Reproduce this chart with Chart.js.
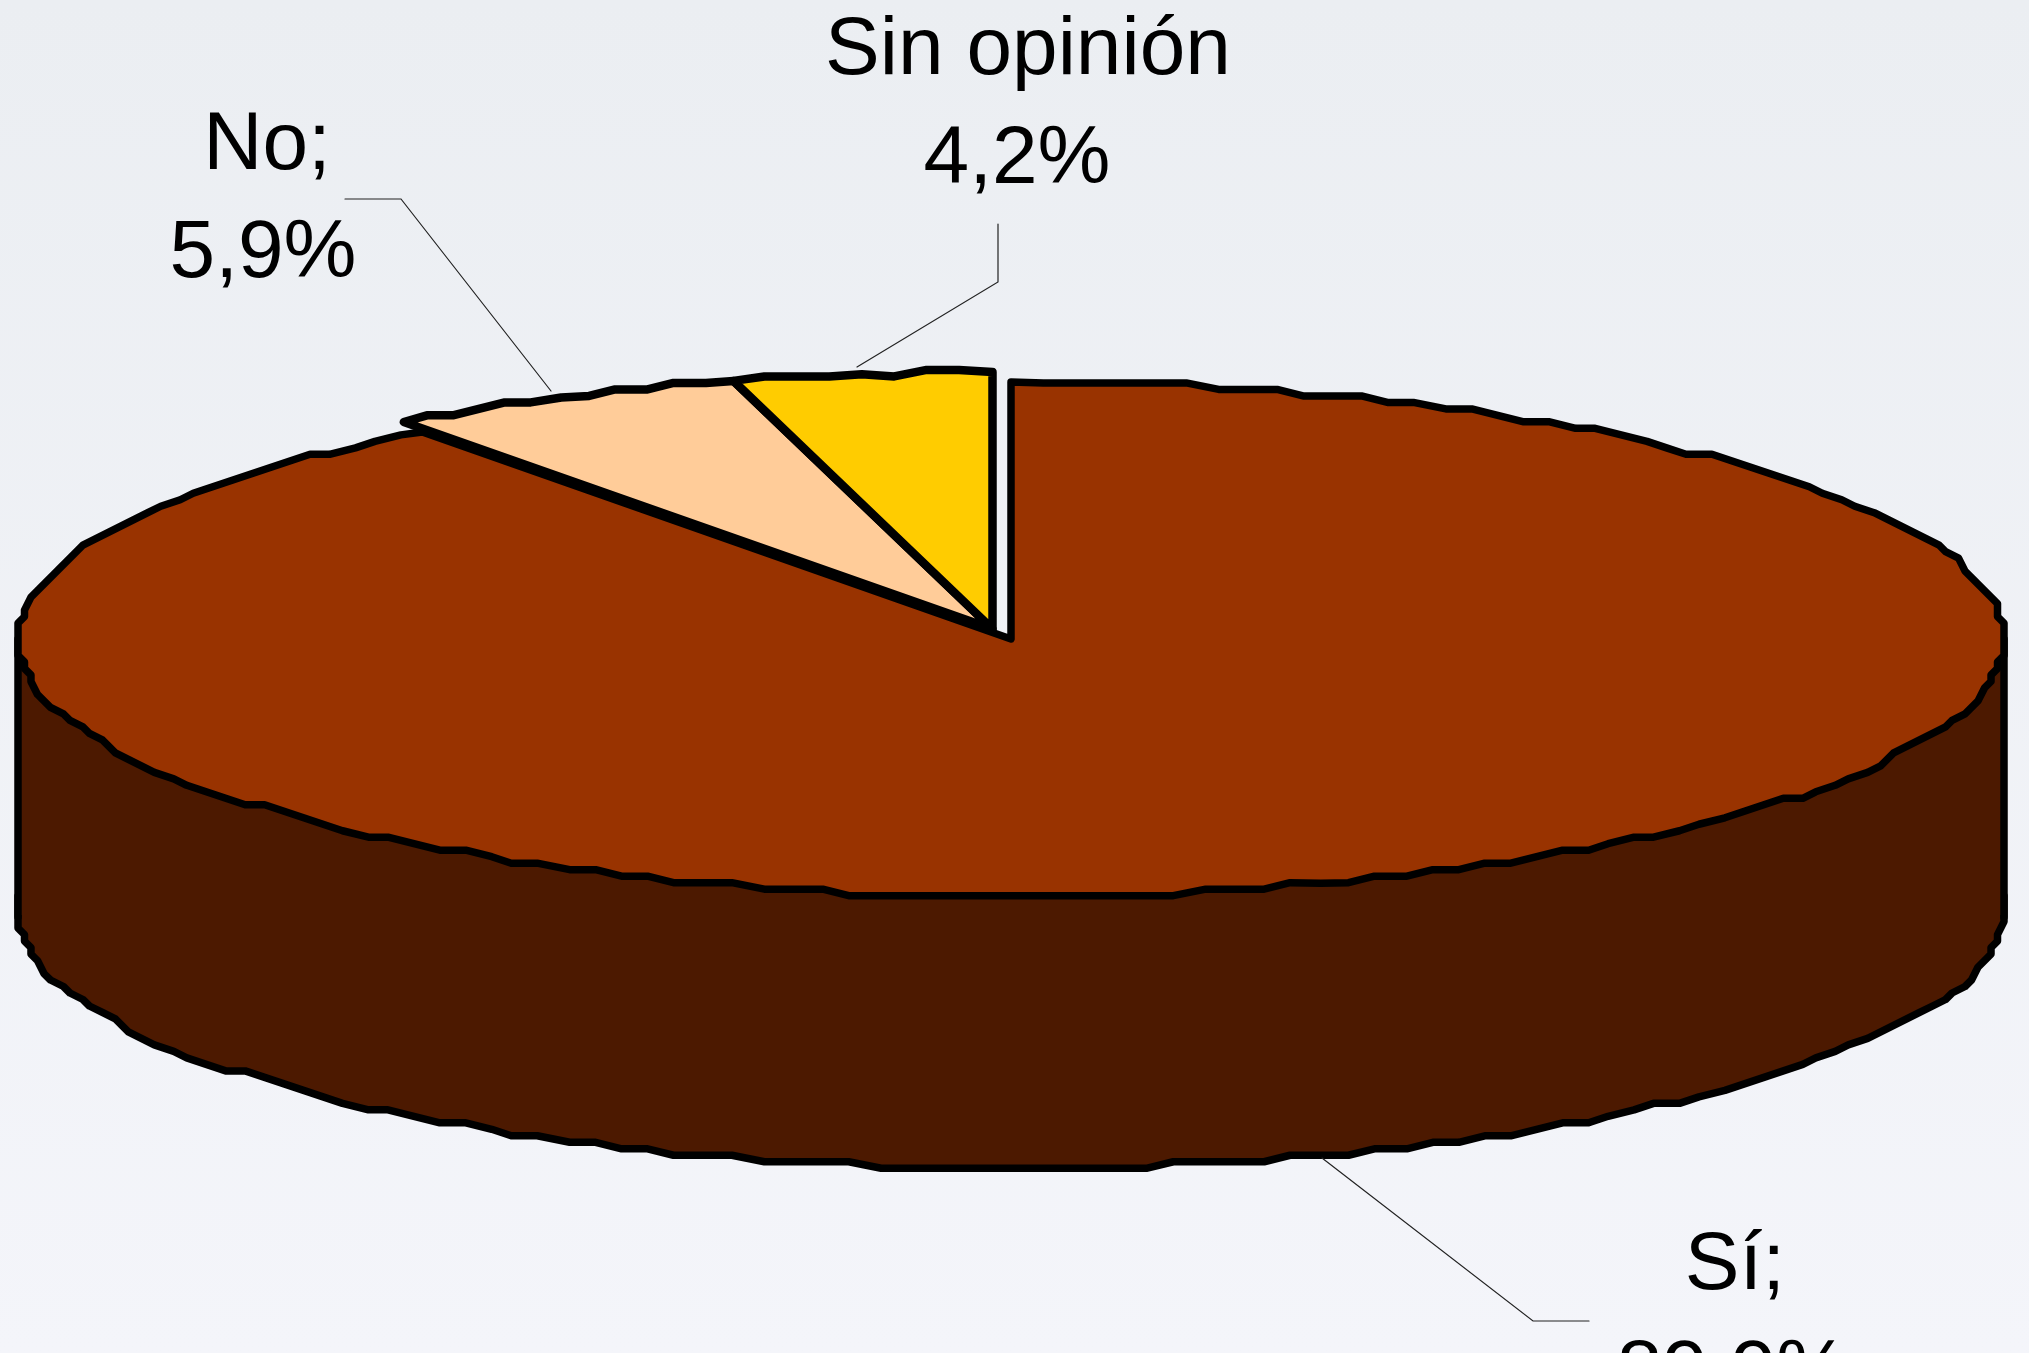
<!DOCTYPE html>
<html>
<head>
<meta charset="utf-8">
<title>Pie</title>
<script src="https://cdn.jsdelivr.net/npm/chart.js@4"></script>
<style>
    html, body { margin: 0; padding: 0; background: #f0f2f6; overflow: hidden; }
    body { width: 2029px; height: 1353px; background: linear-gradient(#ebeef2, #f4f5fa); }
    canvas { display: block; }
</style>
</head>
<body>
<canvas id="PieChart" width="2029" height="1353"></canvas>
<script>
const categories = ['Sí', 'No', 'Sin opinión'];
const values = [89.9, 5.9, 4.2];
const valueLabels = ['89,9%', '5,9%', '4,2%'];
const nameLabels = ['Sí;', 'No;', 'Sin opinión'];
const sliceColors = ['#993300', '#FFCC99', '#FFCC00'];
const sideColor = '#4C1900';

// where the text and the thin leader lines sit on the page
const labelPos = [
    { name: [1735, 1289], value: [1733, 1397] },
    { name: [267, 169], value: [263, 277] },
    { name: [1028, 74], value: [1017, 183] }
];
const leaders = [
    [[1589, 1321], [1533, 1321], [1322, 1158]],
    [[345, 199], [401, 199], [551, 391]],
    [[998, 224], [998, 282], [857, 367]]
];

const radiusX = 993;
const squash = 257 / 993;
const depth = 272;
const liftX = -18.5, liftY = -10;
const grid = 993 / 153;
const outline = 7.5;

function DrawFlat(ctx, arc, dx, dy, color) {
    var keep = arc.options;
    if (color) {
        arc.options = Object.assign(Object.create(keep), { backgroundColor: color });
    }
    ctx.save();
    ctx.translate(arc.x + dx, arc.y + dy);
    ctx.scale(1, squash);
    ctx.translate(-arc.x, -arc.y);
    arc.draw(ctx);
    ctx.restore();
    arc.options = keep;
}

const flatPie = {
    id: 'flatPie',
    beforeDatasetsDraw: function (chart) {
        var ctx = chart.ctx;
        var arcs = chart.getDatasetMeta(0).data;
        var nativeStroke = ctx.stroke;

        // keep the outline even although the pie is squashed
        ctx.stroke = function () {
            ctx.save();
            ctx.setTransform(1, 0, 0, 1, 0, 0);
            nativeStroke.call(ctx);
            ctx.restore();
        };
        // the outline in the original is a coarse polygon
        ctx.arc = function (x, y, r, a0, a1) {
            var m = ctx.getTransform();
            var inv = m.inverse();
            var n = Math.max(2, Math.round((a1 - a0) / 0.03));
            ctx.lineTo(x + r * Math.cos(a0), y + r * Math.sin(a0));
            for (var i = 1; i < n; i++) {
                var a = a0 + (a1 - a0) * i / n;
                var p = m.transformPoint({ x: x + r * Math.cos(a), y: y + r * Math.sin(a) });
                var q = inv.transformPoint({ x: x + Math.round((p.x - x) / grid) * grid, y: Math.round(p.y / grid) * grid });
                ctx.lineTo(q.x, q.y);
            }
            ctx.lineTo(x + r * Math.cos(a1), y + r * Math.sin(a1));
        };

        var main = arcs[0];
        var left = main.x - main.outerRadius;
        var right = main.x + main.outerRadius;

        DrawFlat(ctx, main, 0, depth, sideColor);
        ctx.fillStyle = sideColor;
        ctx.fillRect(left, main.y, right - left, depth + 4);
        ctx.strokeStyle = '#000';
        ctx.lineWidth = outline;
        ctx.lineCap = 'round';
        ctx.beginPath();
        ctx.moveTo(left, main.y);
        ctx.lineTo(left, main.y + depth + 6);
        ctx.moveTo(right, main.y);
        ctx.lineTo(right, main.y + depth + 6);
        ctx.stroke();

        DrawFlat(ctx, main, 0, 0);
        DrawFlat(ctx, arcs[1], liftX, liftY);
        DrawFlat(ctx, arcs[2], liftX, liftY);

        delete ctx.arc;
        delete ctx.stroke;
        return false;
    },
    afterDraw: function (chart) {
        var ctx = chart.ctx;
        ctx.save();
        ctx.strokeStyle = '#222';
        ctx.lineWidth = 1.2;
        leaders.forEach(function (line) {
            ctx.beginPath();
            line.forEach(function (p, i) {
                if (i == 0) ctx.moveTo(p[0], p[1]);
                else ctx.lineTo(p[0], p[1]);
            });
            ctx.stroke();
        });
        ctx.fillStyle = '#000';
        ctx.font = '82px "Liberation Sans"';
        ctx.textAlign = 'center';
        ctx.textBaseline = 'alphabetic';
        categories.forEach(function (c, i) {
            ctx.fillText(nameLabels[i], labelPos[i].name[0], labelPos[i].name[1]);
            ctx.fillText(valueLabels[i], labelPos[i].value[0], labelPos[i].value[1]);
        });
        ctx.restore();
    }
};

new Chart(document.getElementById('PieChart').getContext('2d'), {
    type: 'pie',
    data: {
        labels: categories,
        datasets: [{
            data: values,
            radius: radiusX,
            backgroundColor: sliceColors,
            borderColor: '#000',
            borderWidth: [outline, outline + 1, outline + 1],
            borderJoinStyle: 'round'
        }]
    },
    options: {
        responsive: false,
        animation: false,
        layout: { padding: { left: 0, right: 7, top: 0, bottom: 75 } },
        plugins: {
            legend: { display: false },
            tooltip: { enabled: false }
        }
    },
    plugins: [flatPie]
});
</script>
</body>
</html>
